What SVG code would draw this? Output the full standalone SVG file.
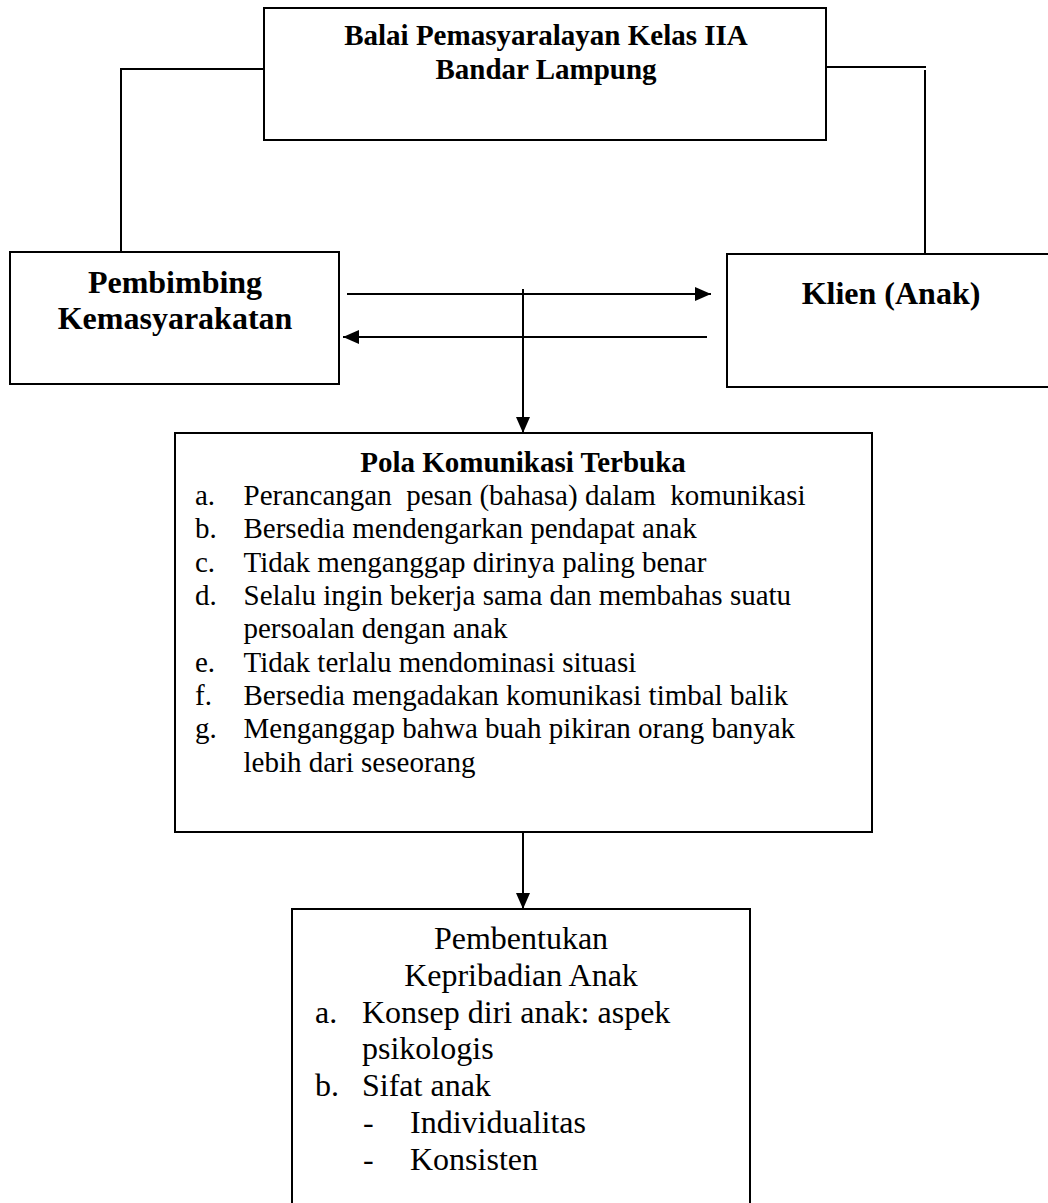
<svg xmlns="http://www.w3.org/2000/svg" width="1048" height="1203" viewBox="0 0 1048 1203">
<style>
.box{fill:#fff;stroke:#000;stroke-width:2}
.ln{fill:none;stroke:#000;stroke-width:2}
.t{font-family:"Liberation Serif","Times New Roman",serif;fill:#000}
.b{font-weight:bold}
.s29{font-size:29px}
.s32{font-size:32px}
.pre{white-space:pre}
</style>
<defs>
<marker id="ah" markerUnits="userSpaceOnUse" markerWidth="16" markerHeight="14" refX="16" refY="7" orient="auto">
<path d="M0,0 L16,7 L0,14 Z" fill="#000"/>
</marker>
</defs>
<rect width="1048" height="1203" fill="#fff"/>
<g id="connectors">
<polyline class="ln" points="264,69 121,69 121,252"/>
<polyline class="ln" points="826,67 926,67"/>
<line class="ln" x1="925" y1="70" x2="925" y2="254"/>
<line class="ln" x1="347" y1="294" x2="711" y2="294" marker-end="url(#ah)"/>
<line class="ln" x1="707" y1="337" x2="343" y2="337" marker-end="url(#ah)"/>
<line class="ln" x1="523" y1="289" x2="523" y2="433" marker-end="url(#ah)"/>
<line class="ln" x1="523" y1="832" x2="523" y2="909" marker-end="url(#ah)"/>
</g>
<g id="balai">
<rect class="box" x="264" y="8" width="562" height="132"/>
<text class="t b s29" x="546" y="45" text-anchor="middle">Balai Pemasyaralayan Kelas IIA</text>
<text class="t b s29" x="546" y="79" text-anchor="middle">Bandar Lampung</text>
</g>
<g id="pembimbing">
<rect class="box" x="10" y="252" width="329" height="132"/>
<text class="t b s32" x="175" y="293" text-anchor="middle">Pembimbing</text>
<text class="t b s32" x="175" y="329" text-anchor="middle">Kemasyarakatan</text>
</g>
<g id="klien">
<rect class="box" x="727" y="254" width="340" height="133"/>
<text class="t b s32" x="891" y="304" text-anchor="middle">Klien (Anak)</text>
</g>
<g id="pola">
<rect class="box" x="175" y="433" width="697" height="399"/>
<text class="t b s29" x="523" y="472" text-anchor="middle">Pola Komunikasi Terbuka</text>
<g class="t s29">
<text x="195" y="505">a.</text><text class="pre" x="243.5" y="505">Perancangan  pesan (bahasa) dalam  komunikasi</text>
<text x="195" y="538">b.</text><text x="243.5" y="538">Bersedia mendengarkan pendapat anak</text>
<text x="195" y="572">c.</text><text x="243.5" y="572">Tidak menganggap dirinya paling benar</text>
<text x="195" y="605">d.</text><text x="243.5" y="605">Selalu ingin bekerja sama dan membahas suatu</text>
<text x="243.5" y="638">persoalan dengan anak</text>
<text x="195" y="672">e.</text><text x="243.5" y="672">Tidak terlalu mendominasi situasi</text>
<text x="195" y="705">f.</text><text x="243.5" y="705">Bersedia mengadakan komunikasi timbal balik</text>
<text x="195" y="738">g.</text><text x="243.5" y="738">Menganggap bahwa buah pikiran orang banyak</text>
<text x="243.5" y="772">lebih dari seseorang</text>
</g>
</g>
<g id="pembentukan">
<rect class="box" x="292" y="909" width="458" height="320"/>
<g class="t s32">
<text x="521" y="949" text-anchor="middle">Pembentukan</text>
<text x="521" y="986" text-anchor="middle">Kepribadian Anak</text>
<text x="315" y="1023">a.</text><text x="362" y="1023">Konsep diri anak: aspek</text>
<text x="362" y="1059">psikologis</text>
<text x="315" y="1096">b.</text><text x="362" y="1096">Sifat anak</text>
<text x="363" y="1133">-</text><text x="410" y="1133">Individualitas</text>
<text x="363" y="1170">-</text><text x="410" y="1170">Konsisten</text>
</g>
</g>
</svg>
